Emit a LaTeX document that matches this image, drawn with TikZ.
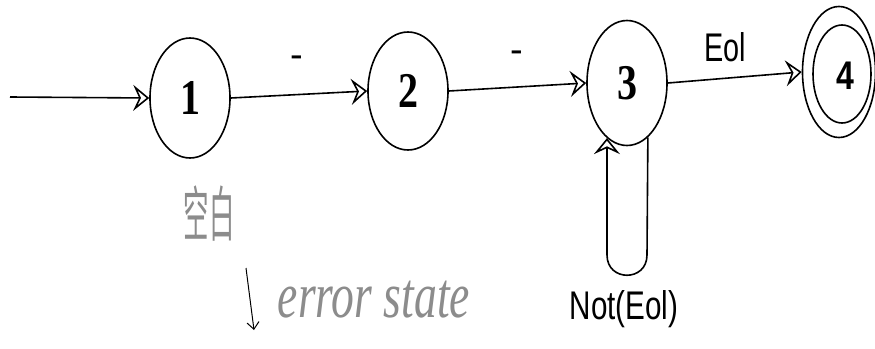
\documentclass[tikz,border=0pt]{standalone}
\usepackage{fontspec}
\setmainfont{Liberation Serif}
\newfontfamily\arialfont{Liberation Sans}
\newfontfamily\cjkfont{Noto Sans CJK SC}
\usetikzlibrary{shapes.geometric,arrows.meta}
\begin{document}
\begin{tikzpicture}[x=1pt,y=-1pt,
  statebox/.style={ellipse,draw,line width=1.6pt,inner sep=0pt,minimum width=80pt,minimum height=120pt,font=\fontsize{50}{50}\selectfont\bfseries},
  edge/.style={line width=1.6pt,-{Stealth[open,length=16pt,width=26pt,inset=6pt]}},
  sanslbl/.style={font=\arialfont\fontsize{40}{40}\selectfont},
  dashlbl/.style={font=\arialfont\fontsize{38}{38}\selectfont},
  hand/.style={text=black!45}
]
\useasboundingbox (0,0) rectangle (875,348);
\fill[white] (0,0) rectangle (875,348);

% states
\node[statebox] (s1) at (190,98) {\scalebox{0.8}[1]{1}};
\node[statebox,minimum height=118pt] (s2) at (408,91) {\scalebox{0.8}[1]{2}};
\node[statebox,minimum height=125pt] (s3) at (627,83) {\scalebox{0.8}[1]{3}};
\node[ellipse,draw,line width=1.6pt,inner sep=0pt,minimum width=73pt,minimum height=131pt] (s4) at (839,72) {};
\node[ellipse,draw,line width=1.6pt,inner sep=0pt,minimum width=58pt,minimum height=98pt] (s4in) at (842,74) {};
\node[font=\arialfont\fontsize{40}{40}\selectfont\bfseries] (n4) at (845,76) {\scalebox{0.8}[1]{4}};

% start arrow
\coordinate (start) at (10,97);
\draw[edge] (start) -- (s1.west);

% transitions
\draw[edge] (s1.east) -- (s2.west);
\draw[edge] (s2.east) -- (s3.west);
\draw[edge] (s3.east) -- (s4.west);
\node[dashlbl] (l12) at (297,62) {-};
\node[dashlbl] (l23) at (517,57) {-};
\node[sanslbl] (l34) at (725,47) {\scalebox{0.72}[1]{Eol}};

% loop on state 3
\coordinate (lr) at (647,255);
\coordinate (ll) at (607,255);
\draw[edge] (s3.-69.7) -- (lr) .. controls (647,282) and (607,282) .. (ll) -- (s3.-110.3);
\node[sanslbl] (lloop) at (624,309) {\scalebox{0.74}[1]{Not(Eol)}};

% handwritten notes
\node[hand,font=\cjkfont\fontsize{30}{30}\selectfont] (kb) at (209,214) {\scalebox{0.85}[2.0]{空白}};
\coordinate (ha) at (246,268);
\coordinate (hb) at (254,330);
\draw[hand,line width=1pt,-{Straight Barb[length=7pt,width=12pt]}] (ha) -- (hb);
\node[hand,font=\itshape\fontsize{48}{48}\selectfont] (err) at (374,300) {\scalebox{0.95}[1.35]{error state}};
\end{tikzpicture}
\end{document}
